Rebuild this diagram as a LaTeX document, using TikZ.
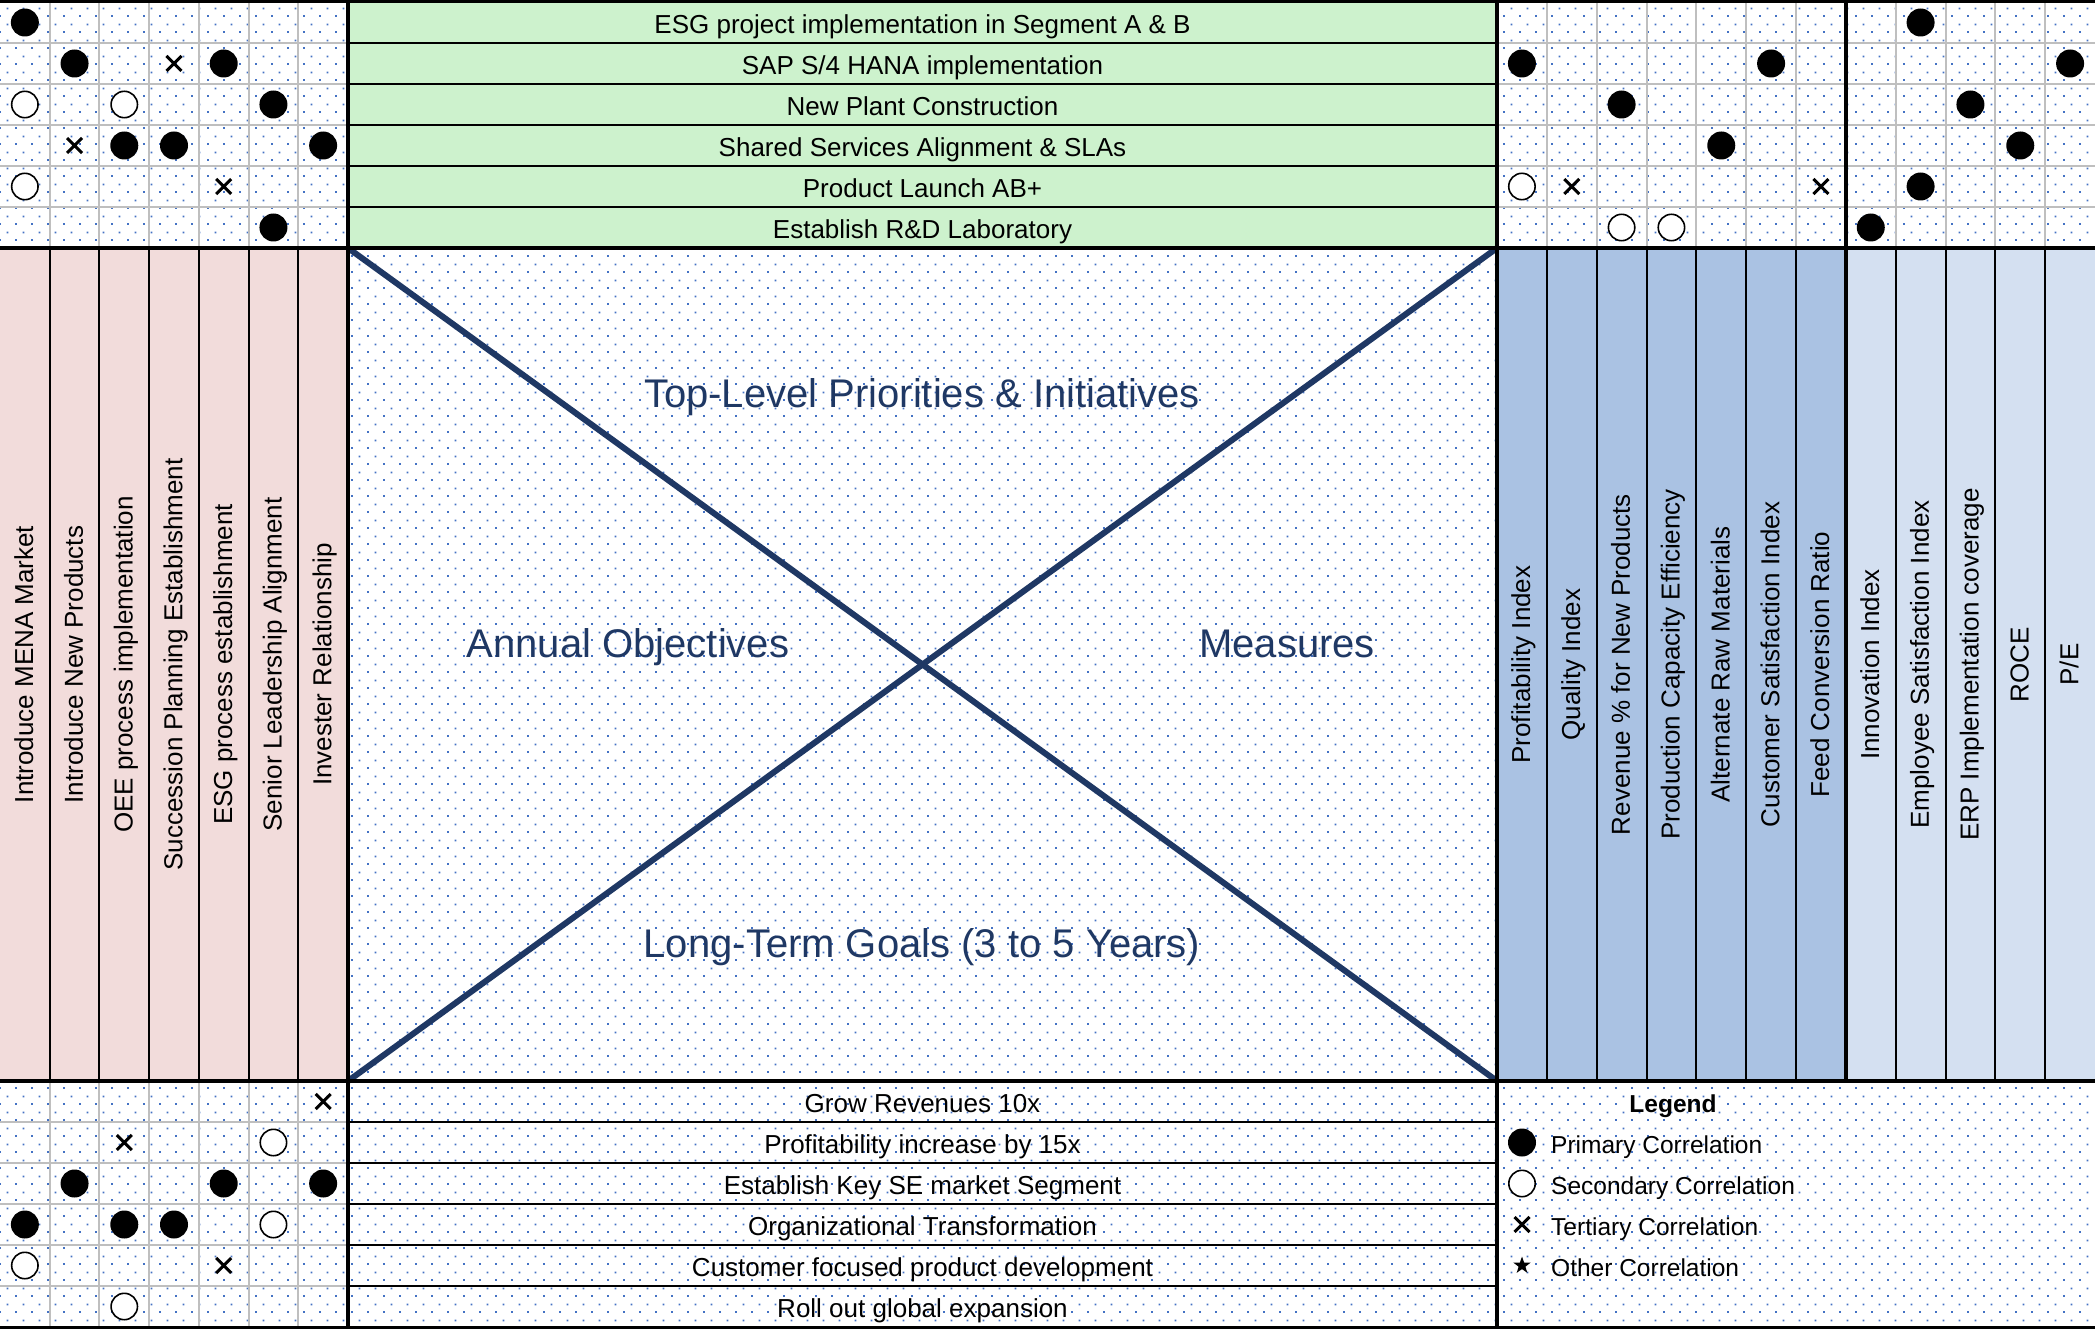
\documentclass[tikz,border=0pt]{standalone}
\usepackage{fontspec}
\setmainfont{Liberation Sans}
\usetikzlibrary{patterns,shapes.geometric}

\definecolor{rowgreen}{RGB}{205,242,205}
\definecolor{colpink}{RGB}{242,220,219}
\definecolor{colblue}{RGB}{170,194,227}
\definecolor{colpale}{RGB}{212,224,241}
\definecolor{crossnavy}{RGB}{31,56,100}
\definecolor{dotblue}{RGB}{68,114,196}
\definecolor{cellgray}{RGB}{191,191,191}

\pgfdeclarepatternformonly{celldots}{\pgfpointorigin}{\pgfpoint{16pt}{16pt}}{\pgfpoint{16pt}{16pt}}{%
    \pgfpathrectangle{\pgfpoint{0pt}{0pt}}{\pgfpoint{2pt}{2pt}}%
    \pgfpathrectangle{\pgfpoint{8pt}{8pt}}{\pgfpoint{2pt}{2pt}}%
    \pgfusepath{fill}}

\newcommand{\pcorr}[1]{\fill #1 circle (14pt);}
\newcommand{\scorr}[1]{\draw[line width=1.6pt,fill=white] #1 circle (13.2pt);}
\newcommand{\tcorr}[1]{\draw[line width=3pt] #1 +(-7.5,-7.5) -- +(7.5,7.5) +(-7.5,7.5) -- +(7.5,-7.5);}

\tikzset{
    rowtext/.style={font=\fontsize{26pt}{31pt}\selectfont,inner sep=0pt,text height=21.4pt,text depth=0pt},
    coltext/.style={rowtext,rotate=90,text height=16.6pt},
    legtext/.style={rowtext,font=\fontsize{24.5pt}{29pt}\selectfont,anchor=west},
    bigtext/.style={font=\fontsize{40pt}{48pt}\selectfont,text=crossnavy,inner sep=0pt,text height=28.6pt,text depth=0pt},
    thickrule/.style={line width=3.2pt},
    thinrule/.style={line width=2pt},
    cellrule/.style={line width=2pt,cellgray},
    crossline/.style={line width=6pt,crossnavy},
}

\begin{document}
\begin{tikzpicture}[x=1pt,y=-1pt]
        \pgfmathsetmacro{\lw}{348/7}
        \pgfmathsetmacro{\rw}{598/12}
        \pgfmathsetmacro{\rh}{41}

        \useasboundingbox (0,0) rectangle (2095,1329);
        \fill[white] (0,0) rectangle (2095,1329);
        \fill[pattern=celldots,pattern color=dotblue] (0,0) rectangle (2095,1329);

        \fill[rowgreen] (348,2) rectangle (1497,248);
        \fill[colpink] (0,248) rectangle (348,1081);
        \fill[colblue] (1497,248) rectangle (1846,1081);
        \fill[colpale] (1846,248) rectangle (2095,1081);

        \foreach \i in {1,...,6} {
            \draw[cellrule] ({\i*\lw},2) -- ({\i*\lw},248);
            \draw[cellrule] ({\i*\lw},1081) -- ({\i*\lw},1327);
            \draw[thinrule] ({\i*\lw},248) -- ({\i*\lw},1081);
        }
        \foreach \i in {1,...,11} {
            \draw[cellrule] ({1497+\i*\rw},2) -- ({1497+\i*\rw},248);
            \draw[thinrule] ({1497+\i*\rw},248) -- ({1497+\i*\rw},1081);
        }
        \foreach \k in {1,...,5} {
            \draw[cellrule] (0,{2+\k*\rh}) -- (348,{2+\k*\rh});
            \draw[cellrule] (1497,{2+\k*\rh}) -- (2095,{2+\k*\rh});
            \draw[cellrule] (0,{1081+\k*\rh}) -- (348,{1081+\k*\rh});
            \draw[thinrule] (348,{2+\k*\rh}) -- (1497,{2+\k*\rh});
            \draw[thinrule] (348,{1081+\k*\rh}) -- (1497,{1081+\k*\rh});
        }

        \coordinate (mtl) at (348,248);
        \coordinate (mtr) at (1497,248);
        \coordinate (mbl) at (348,1081);
        \coordinate (mbr) at (1497,1081);
        \draw[crossline] (mtl) -- (mbr);
        \draw[crossline] (mtr) -- (mbl);

        \draw[thickrule] (0,1.6) -- (2095,1.6);
        \draw[thickrule] (0,248) -- (2095,248);
        \draw[thickrule] (0,1081) -- (2095,1081);
        \draw[thickrule] (0,1327.4) -- (2095,1327.4);
        \draw[thickrule] (348,0) -- (348,1329);
        \draw[thickrule] (1497,0) -- (1497,1329);
        \draw[thickrule] (1846,0) -- (1846,1081);

        \foreach \t [count=\i] in {ESG project implementation in Segment A \& B,{SAP S/4 HANA implementation},New Plant Construction,Shared Services Alignment \& SLAs,Product Launch AB+,Establish R\&D Laboratory}
            \node[rowtext] (ini\i) at (922.5,{2+(\i-0.5)*\rh}) {\t};
        \foreach \t [count=\i] in {Grow Revenues 10x,Profitability increase by 15x,Establish Key SE market Segment,Organizational Transformation,Customer focused product development,Roll out global expansion}
            \node[rowtext] (goal\i) at (922.5,{1081+(\i-0.5)*\rh}) {\t};
        \foreach \t [count=\i] in {Introduce MENA Market,Introduce New Products,OEE process implementation,Succession Planning Establishment,ESG process establishment,Senior Leadership Alignment,Invester Relationship}
            \node[coltext] (obj\i) at ({(\i-0.5)*\lw},664.5) {\t};
        \foreach \t [count=\i] in {Profitability Index,Quality Index,Revenue \% for New Products,Production Capacity Efficiency,Alternate Raw Materials,Customer Satisfaction Index,Feed Conversion Ratio,Innovation Index,Employee Satisfaction Index,ERP Implementation coverage,ROCE,{P/E}}
            \node[coltext] (kpi\i) at ({1497+(\i-0.5)*\rw},664.5) {\t};

        \node[bigtext] (prio) at (922,393) {Top-Level Priorities \& Initiatives};
        \node[bigtext] (annual) at (628,643) {Annual Objectives};
        \node[bigtext] (measures) at (1287,643) {Measures};
        \node[bigtext] (goals) at (922,943) {Long-Term Goals (3 to 5 Years)};

        \foreach \c/\r in {1/1,2/2,5/2,6/3,3/4,4/4,7/4,6/6}
            {\pcorr{({(\c-0.5)*\lw},{2+(\r-0.5)*\rh})}}
        \foreach \c/\r in {1/3,3/3,1/5}
            {\scorr{({(\c-0.5)*\lw},{2+(\r-0.5)*\rh})}}
        \foreach \c/\r in {4/2,2/4,5/5}
            {\tcorr{({(\c-0.5)*\lw},{2+(\r-0.5)*\rh})}}

        \foreach \c/\r in {9/1,1/2,6/2,12/2,3/3,10/3,5/4,11/4,9/5,8/6}
            {\pcorr{({1497+(\c-0.5)*\rw},{2+(\r-0.5)*\rh})}}
        \foreach \c/\r in {1/5,3/6,4/6}
            {\scorr{({1497+(\c-0.5)*\rw},{2+(\r-0.5)*\rh})}}
        \foreach \c/\r in {2/5,7/5}
            {\tcorr{({1497+(\c-0.5)*\rw},{2+(\r-0.5)*\rh})}}

        \foreach \c/\r in {2/3,5/3,7/3,1/4,3/4,4/4}
            {\pcorr{({(\c-0.5)*\lw},{1081+(\r-0.5)*\rh})}}
        \foreach \c/\r in {6/2,6/4,1/5,3/6}
            {\scorr{({(\c-0.5)*\lw},{1081+(\r-0.5)*\rh})}}
        \foreach \c/\r in {7/1,3/2,5/5}
            {\tcorr{({(\c-0.5)*\lw},{1081+(\r-0.5)*\rh})}}

        \node[rowtext,font=\fontsize{24.5pt}{29pt}\selectfont\bfseries] (legend) at (1673,1101.5) {Legend};
        \pcorr{(1522,1142.5)}
        \scorr{(1522,1183.5)}
        \tcorr{(1522,1224.5)}
        \node[star,star points=5,star point ratio=2.5,fill=black,minimum size=18pt,inner sep=0pt] (legstar) at (1522,1265.5) {};
        \node[legtext] (legprim) at (1551,1142.5) {Primary Correlation};
        \node[legtext] (legsec) at (1551,1183.5) {Secondary Correlation};
        \node[legtext] (legter) at (1551,1224.5) {Tertiary Correlation};
        \node[legtext] (legoth) at (1551,1265.5) {Other Correlation};
    \end{tikzpicture}
\end{document}
